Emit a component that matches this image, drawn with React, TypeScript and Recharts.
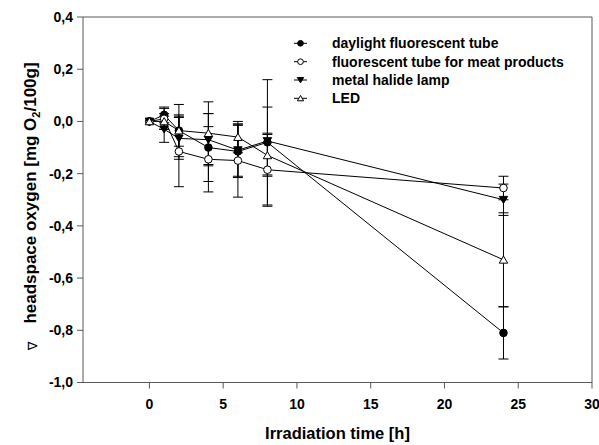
import React from 'react'
import { ComposedChart, Line, XAxis, YAxis, ErrorBar, ReferenceLine, Legend } from 'recharts'

const hours = [0, 1, 2, 4, 6, 8, 24]

const daylight = [0, 0.025, -0.035, -0.1, -0.115, -0.08, -0.81]
const daylightErr = [0, 0.03, 0.1, 0.13, 0.1, 0.24, 0.1]

const meat = [0, 0.01, -0.115, -0.145, -0.15, -0.185, -0.255]
const meatErr = [0, 0.04, 0.135, 0.125, 0.14, 0.14, 0.045]

const halide = [0, -0.03, -0.065, -0.07, -0.11, -0.075, -0.3]
const halideErr = [0, 0.05, 0.08, 0.1, 0.1, 0.13, 0.06]

const led = [0, 0, -0.035, -0.045, -0.06, -0.13, -0.53]
const ledErr = [0, 0.03, 0.06, 0.12, 0.06, 0.08, 0.18]

const xTicks = [0, 5, 10, 15, 20, 25, 30]
const yTicks = [-1, -0.8, -0.6, -0.4, -0.2, 0, 0.2, 0.4]

const seriesNames = [
    'daylight fluorescent tube',
    'fluorescent tube for meat products',
    'metal halide lamp',
    'LED',
]

type Kind = 'filledCircle' | 'openCircle' | 'filledDown' | 'openUp'
const kinds: Kind[] = ['filledCircle', 'openCircle', 'filledDown', 'openUp']

const FONT = '"Liberation Sans", Arial, sans-serif'
const AXIS = '#595959'

const toRows = (ys: number[], es: number[]) => hours.map((x, i) => ({ x, y: ys[i], e: es[i] }))

function Marker({ kind, cx, cy, s = 1 }: { kind: Kind; cx: number; cy: number; s?: number }) {
    if (cx == null || cy == null) return null
    const r = 3.8 * s
    const h = 4.2 * s
    switch (kind) {
        case 'filledCircle':
            return <circle cx={cx} cy={cy} r={r} fill="#000" stroke="#000" />
        case 'openCircle':
            return <circle cx={cx} cy={cy} r={r} fill="#fff" stroke="#000" />
        case 'filledDown':
            return <polygon points={`${cx - h},${cy - h * 0.8} ${cx + h},${cy - h * 0.8} ${cx},${cy + h * 0.9}`} fill="#000" stroke="#000" />
        default:
            return <polygon points={`${cx - h},${cy + h * 0.8} ${cx + h},${cy + h * 0.8} ${cx},${cy - h * 0.9}`} fill="#fff" stroke="#000" />
    }
}

const dotFor = (kind: Kind) => (props: any) => (
    <Marker key={`${kind}-${props.index}`} kind={kind} cx={props.cx} cy={props.cy} />
)

const fmt = (v: number) => v.toFixed(1).replace('.', ',')

function LegendBox() {
    const rowsY = [13.3, 31.7, 50, 68.3]
    return (
        <svg width={300} height={82} style={{ display: 'block' }}>
            {seriesNames.map((name, i) => (
                <g key={name}>
                    <line x1={6} x2={19} y1={rowsY[i]} y2={rowsY[i]} stroke="#000" />
                    <Marker kind={kinds[i]} cx={12.5} cy={rowsY[i]} s={0.75} />
                    <text x={44} y={rowsY[i]} dy="0.35em" fontFamily={FONT} fontWeight="bold" fontSize={14} fill="#000">
                        {name}
                    </text>
                </g>
            ))}
        </svg>
    )
}

function YTitle() {
    return (
        <g>
            <text
                x={36}
                y={193}
                transform="rotate(-90 36 193)"
                textAnchor="middle"
                fontFamily={FONT}
                fontWeight="bold"
                fontSize={17}
                fill="#000"
            >
                headspace oxygen [mg O<tspan dy="4" fontSize={11}>2</tspan>
                <tspan dy="-4">/100g]</tspan>
            </text>
            <text x={37} y={346} transform="rotate(-90 37 346)" textAnchor="middle" fontFamily="DejaVu Sans" fontSize={13} fill="#000">
                ∇
            </text>
        </g>
    )
}

function XTitle() {
    return (
        <text x={337.5} y={439} textAnchor="middle" fontFamily={FONT} fontWeight="bold" fontSize={16.5} fill="#000">
            Irradiation time [h]
        </text>
    )
}

export default function App() {
    const allSeries = [
        { name: seriesNames[0], data: toRows(daylight, daylightErr), kind: kinds[0] },
        { name: seriesNames[1], data: toRows(meat, meatErr), kind: kinds[1] },
        { name: seriesNames[2], data: toRows(halide, halideErr), kind: kinds[2] },
        { name: seriesNames[3], data: toRows(led, ledErr), kind: kinds[3] },
    ]

    return (
        <div style={{ position: 'absolute', left: 0, top: 0, width: 599, height: 445, background: '#fff' }}>
            <ComposedChart width={599} height={445} margin={{ top: 17, right: 7, bottom: 0, left: 0 }}>
                <XAxis
                    dataKey="x"
                    type="number"
                    domain={[-4.5, 30]}
                    ticks={xTicks}
                    allowDataOverflow
                    height={62.5}
                    stroke={AXIS}
                    tickSize={6}
                    tickMargin={11}
                    tick={{ fill: '#000', fontSize: 14, fontWeight: 'bold', fontFamily: FONT }}
                    label={{ content: () => <XTitle /> }}
                />
                <YAxis
                    type="number"
                    domain={[-1, 0.4]}
                    ticks={yTicks}
                    allowDataOverflow
                    width={83}
                    stroke={AXIS}
                    tickSize={6}
                    tickMargin={4}
                    tickFormatter={fmt}
                    tick={{ fill: '#000', fontSize: 14, fontWeight: 'bold', fontFamily: FONT }}
                    label={{ content: () => <YTitle /> }}
                />
                <ReferenceLine y={0.4} stroke={AXIS} ifOverflow="visible" />
                <ReferenceLine x={30} stroke={AXIS} ifOverflow="visible" />
                <Legend
                    layout="vertical"
                    align="center"
                    verticalAlign="middle"
                    wrapperStyle={{ left: 288, top: 30, width: 300 }}
                    content={() => <LegendBox />}
                />
                {allSeries.map((s) => (
                    <Line
                        key={s.name}
                        name={s.name}
                        data={s.data}
                        dataKey="y"
                        stroke="#000"
                        strokeWidth={1}
                        dot={dotFor(s.kind)}
                        activeDot={false}
                        isAnimationActive={false}
                        type="linear"
                    >
                        <ErrorBar dataKey="e" direction="y" width={5} stroke="#000" strokeWidth={1} />
                    </Line>
                ))}
            </ComposedChart>
        </div>
    )
}
